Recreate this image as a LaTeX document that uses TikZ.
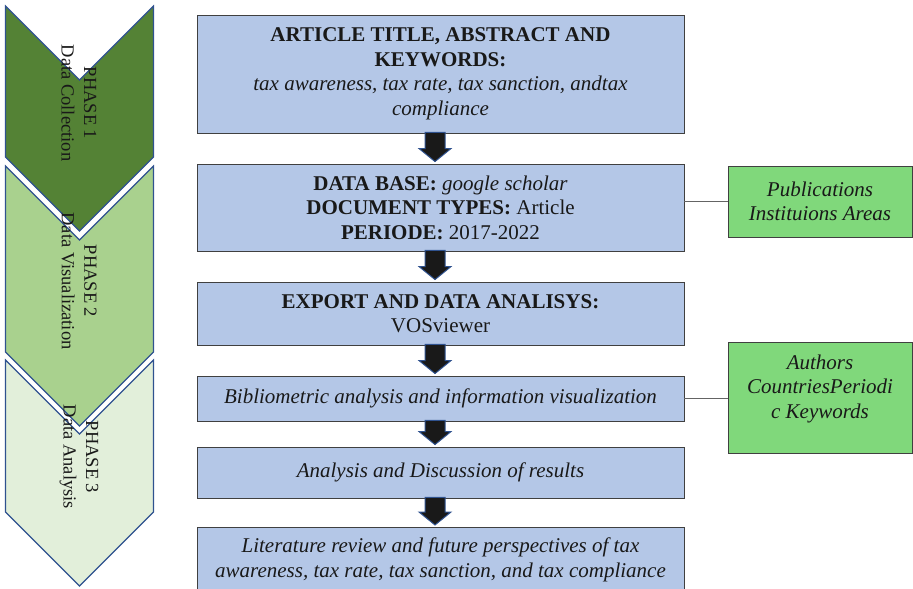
\documentclass[tikz,border=0pt]{standalone}
\usepackage{fontspec}
\setmainfont{Liberation Serif}
\usetikzlibrary{calc}
\definecolor{boxblue}{RGB}{180,199,231}
\definecolor{boxgreen}{RGB}{128,216,123}
\definecolor{chdark}{RGB}{84,130,53}
\definecolor{chmid}{RGB}{169,209,142}
\definecolor{chlight}{RGB}{226,239,218}
\definecolor{outlineblue}{RGB}{47,82,143}
\definecolor{txt}{RGB}{25,25,25}
\definecolor{edgegray}{RGB}{64,64,64}
\definecolor{linegray}{RGB}{100,100,100}
\newcommand\blkarrow[2]{%
  \path[blkarr] let \p1=($(#1.south)+(-5.5,0)$), \p2=(#2.north) in
    (\x1-10pt,\y1+1pt) -- (\x1+10pt,\y1+1pt) -- (\x1+10pt,\y2+15pt) --
    (\x1+16pt,\y2+15pt) -- (\x1,\y2+2pt) -- (\x1-16pt,\y2+15pt) --
    (\x1-10pt,\y2+15pt) -- cycle;}
\begin{document}
\begin{tikzpicture}[x=1pt,y=-1pt,
  mainbox/.style={draw=edgegray, line width=0.9pt, fill=boxblue, minimum width=487pt,
    align=center, inner sep=0pt, text=txt, font=\fontsize{21}{24.5}\selectfont},
  sidebox/.style={draw=edgegray, line width=0.9pt, fill=boxgreen, minimum width=184pt,
    align=center, inner sep=0pt, text=txt, font=\fontsize{21}{24.5}\selectfont\itshape},
  chevron/.style={draw=outlineblue, line width=1.2pt, line join=miter},
  phasetext/.style={rotate=-90, align=center, text=txt, inner sep=0pt,
    font=\fontsize{18.5}{22.5}\selectfont},
  blkarr/.style={draw=outlineblue, fill=black!90, line width=1pt, line join=miter},
  link/.style={draw=linegray, line width=0.9pt}
]
\useasboundingbox (0,0) rectangle (913,589);
\clip (0,0) rectangle (913,589);

% phase chevrons
\path[chevron, fill=chdark] (5.5,6) -- (79.5,80) -- (153.5,6) -- (153.5,157) -- (79.5,231) -- (5.5,157) -- cycle;
\path[chevron, fill=chmid] (5.5,166) -- (79.5,240) -- (153.5,166) -- (153.5,352) -- (79.5,426) -- (5.5,352) -- cycle;
\path[chevron, fill=chlight] (5.5,360) -- (79.5,434) -- (153.5,360) -- (153.5,512) -- (79.5,586) -- (5.5,512) -- cycle;
\node[phasetext] (p1) at (79,103) {PHASE 1\\Data Collection};
\node[phasetext] (p2) at (79,281) {PHASE 2\\Data Visualization};
\node[phasetext] (p3) at (79,457) {PHASE 3\\Data Analysis};

% main flow
\node[mainbox, minimum height=118pt] (b1) at (440.5,74)
  {\textbf{ARTICLE TITLE, ABSTRACT AND}\\\textbf{KEYWORDS:}\\
   \textit{tax awareness, tax rate, tax sanction, andtax}\\\textit{compliance}};
\node[mainbox, minimum height=87pt] (b2) at (440.5,207.5)
  {\textbf{DATA BASE:} \textit{google scholar}\\\textbf{DOCUMENT TYPES:} Article\\
   \textbf{PERIODE:} 2017-2022};
\node[mainbox, minimum height=63pt] (b3) at (440.5,313.5)
  {\textbf{EXPORT AND DATA ANALISYS:}\\VOSviewer};
\node[mainbox, minimum height=45pt] (b4) at (440.5,398.5)
  {\textit{Bibliometric analysis and information visualization}};
\node[mainbox, minimum height=51pt] (b5) at (440.5,472.5)
  {\textit{Analysis and Discussion of results}};
\node[mainbox, minimum height=80pt, anchor=north, text depth=20pt] (b6) at (440.5,527)
  {\textit{Literature review and future perspectives of tax}\\
   \textit{awareness, tax rate, tax sanction, and tax compliance}};

% side boxes
\node[sidebox, minimum height=71pt] (gA) at (820,201.5) {Publications\\Instituions Areas};
\node[sidebox, minimum height=111pt, text depth=22pt] (gB) at (820,397.5)
  {Authors\\CountriesPeriodi\\c Keywords};

% connectors
\draw[link] (b2.east |- gA.west) -- (gA.west);
\draw[link] (b4.east) -- (b4.east -| gB.west);

% block arrows
\blkarrow{b1}{b2}
\blkarrow{b2}{b3}
\blkarrow{b3}{b4}
\blkarrow{b4}{b5}
\blkarrow{b5}{b6}
\end{tikzpicture}
\end{document}
